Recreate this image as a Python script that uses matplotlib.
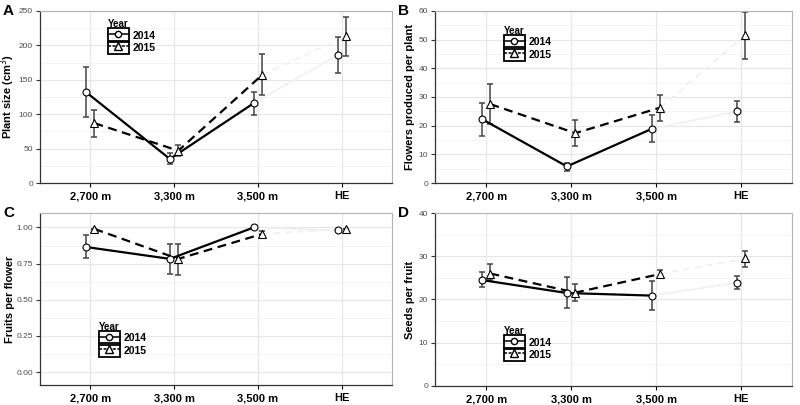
#!/usr/bin/env python3
"""Four-panel plant trait plot by elevation site and year."""

import matplotlib
matplotlib.use('Agg')
import matplotlib.pyplot as plt
from matplotlib.legend_handler import HandlerLine2D
from matplotlib.patches import Rectangle
from matplotlib.lines import Line2D
from matplotlib.ticker import MultipleLocator

plt.rcParams['font.family'] = ['Liberation Sans', 'DejaVu Sans']

sites = ['2,700 m', '3,300 m', '3,500 m', 'HE']
years = ['2014', '2015']

# panel A - plant size
size_2014 = [132, 35, 116, 186]
size_2014_lo = [96, 27, 99, 160]
size_2014_hi = [169, 43, 132, 212]
size_2015 = [87, 47, 157, 213]
size_2015_lo = [67, 40, 128, 184]
size_2015_hi = [106, 56, 187, 241]

# panel B - flowers per plant
flw_2014 = [22.3, 5.8, 18.9, 25.0]
flw_2014_lo = [16.5, 4.3, 14.3, 21.3]
flw_2014_hi = [27.8, 7.1, 23.6, 28.7]
flw_2015 = [27.5, 17.4, 26.3, 51.6]
flw_2015_lo = [20.7, 12.8, 21.8, 43.4]
flw_2015_hi = [34.4, 21.9, 30.8, 59.5]

# panel C - fruits per flower
frt_2014 = [0.865, 0.783, 1.0, 0.98]
frt_2014_lo = [0.79, 0.678, 1.0, 0.98]
frt_2014_hi = [0.945, 0.885, 1.0, 0.98]
frt_2015 = [0.99, 0.783, 0.955, 0.99]
frt_2015_lo = [0.99, 0.673, 0.93, 0.99]
frt_2015_hi = [0.99, 0.885, 0.978, 0.99]

# panel D - seeds per fruit
sd_2014 = [24.5, 21.5, 20.9, 23.9]
sd_2014_lo = [22.9, 18.0, 17.6, 22.5]
sd_2014_hi = [26.3, 25.1, 24.3, 25.4]
sd_2015 = [26.0, 21.6, 25.9, 29.5]
sd_2015_lo = [24.5, 19.6, 25.0, 27.5]
sd_2015_hi = [28.1, 23.7, 26.8, 31.2]


class BoxedHandler(HandlerLine2D):
    """Legend key with a black box around it, ggplot style."""
    def create_artists(self, legend, orig_handle, xdescent, ydescent,
                       width, height, fontsize, trans):
        arts = super().create_artists(legend, orig_handle, xdescent, ydescent,
                                      width, height, fontsize, trans)
        box = Rectangle((-xdescent, -ydescent - 0.5), width, height + 1, fill=False,
                        edgecolor='black', lw=1.3, transform=trans)
        return [box] + list(arts)


def draw_panel(ax, letter, ylabel, s14, lo14, hi14, s15, lo15, hi15,
               ylim, ystep, yfmt, leg_loc, ypad):
    x = list(range(1, len(sites) + 1))
    dodge = 0.05
    x14 = [v - dodge for v in x]
    x15 = [v + dodge for v in x]

    # faint connector from 3,500 m to HE
    ax.plot(x14[2:], s14[2:], color='#f0f0f0', lw=1.2, zorder=1)
    ax.plot(x15[2:], s15[2:], color='#f0f0f0', lw=1.2, ls=(0, (4, 3)), zorder=1)

    for xs, ys, lo, hi in [(x14, s14, lo14, hi14), (x15, s15, lo15, hi15)]:
        err = [[m - l for m, l in zip(ys, lo)], [h - m for m, h in zip(ys, hi)]]
        ax.errorbar(xs, ys, yerr=err, fmt='none', ecolor='#444444',
                    elinewidth=1.1, capsize=2.5, capthick=1.1, zorder=2)

    ax.plot(x14[:3], s14[:3], color='black', lw=1.6, zorder=3)
    ax.plot(x15[:3], s15[:3], color='black', lw=1.6, ls=(0, (4, 2.5)), zorder=3)
    ax.plot(x14, s14, 'o', ms=5, mfc='white', mec='black', mew=0.8, zorder=4)
    ax.plot(x15, s15, '^', ms=6, mfc='white', mec='black', mew=0.8, zorder=4)

    ax.set_xlim(0.4, 4.6)
    ax.set_ylim(*ylim)
    ax.set_xticks(x)
    ax.set_xticklabels(sites, fontsize=8, fontweight='bold')
    ax.yaxis.set_major_locator(MultipleLocator(ystep))
    ax.yaxis.set_minor_locator(MultipleLocator(ystep / 2))
    ax.yaxis.set_major_formatter(yfmt)
    ax.tick_params(axis='y', labelsize=6, labelcolor='#4d4d4d', color='#333333',
                   length=3, width=0.8, pad=2)
    ax.tick_params(axis='x', length=3, width=0.8, colors='black', pad=3)
    ax.tick_params(axis='y', which='minor', length=0)

    ax.grid(True, which='major', color='#e6e6e6', lw=0.8)
    ax.grid(True, which='minor', axis='y', color='#f2f2f2', lw=0.6)
    ax.set_axisbelow(True)
    for side in ['top', 'right']:
        ax.spines[side].set_color('#b3b3b3')
        ax.spines[side].set_linewidth(0.8)
    for side in ['left', 'bottom']:
        ax.spines[side].set_color('#333333')
        ax.spines[side].set_linewidth(0.9)

    ax.set_ylabel(ylabel, fontsize=8, fontweight='bold', labelpad=ypad)
    ax.text(-0.105, 1.0, letter, transform=ax.transAxes, fontsize=11,
            fontweight='bold', ha='left', va='center')

    handles = [Line2D([], [], color='black', lw=1.1, marker='o', ms=4.5,
                      mfc='white', mec='black'),
               Line2D([], [], color='black', lw=1.1, ls=(0, (2, 1)), marker='^',
                      ms=5.5, mfc='white', mec='black')]
    leg = ax.legend(handles, years, title='Year', loc=leg_loc[0],
                    bbox_to_anchor=leg_loc[1], frameon=False,
                    handler_map={Line2D: BoxedHandler()},
                    handlelength=2.0, handleheight=1.45, labelspacing=0.0,
                    handletextpad=0.35, borderpad=0.1,
                    prop={'size': 7.5, 'weight': 'bold'})
    leg.get_title().set_fontsize(7)
    leg.get_title().set_fontweight('bold')
    leg._legend_box.align = 'left'


fig = plt.figure(figsize=(8.0, 4.05), dpi=100)
axA = fig.add_axes([0.05, 0.548, 0.44, 0.425])
axB = fig.add_axes([0.544, 0.548, 0.446, 0.425])
axC = fig.add_axes([0.05, 0.049, 0.44, 0.425])
axD = fig.add_axes([0.544, 0.047, 0.446, 0.427])

draw_panel(axA, 'A', 'Plant size (cm$^3$)', size_2014, size_2014_lo, size_2014_hi,
           size_2015, size_2015_lo, size_2015_hi, (0, 250), 50, '{x:.0f}',
           ('upper left', (0.175, 0.99)), 1)
draw_panel(axB, 'B', 'Flowers produced per plant', flw_2014, flw_2014_lo, flw_2014_hi,
           flw_2015, flw_2015_lo, flw_2015_hi, (0, 60), 10, '{x:.0f}',
           ('upper left', (0.175, 0.95)), 3)
draw_panel(axC, 'C', 'Fruits per flower', frt_2014, frt_2014_lo, frt_2014_hi,
           frt_2015, frt_2015_lo, frt_2015_hi, (-0.09, 1.10), 0.25, '{x:.2f}',
           ('lower left', (0.15, 0.13)), 1)
draw_panel(axD, 'D', 'Seeds per fruit', sd_2014, sd_2014_lo, sd_2014_hi,
           sd_2015, sd_2015_lo, sd_2015_hi, (0, 40), 10, '{x:.0f}',
           ('lower left', (0.175, 0.11)), 3)

fig.savefig('out.png', dpi=100, facecolor='white')
plt.close(fig)
